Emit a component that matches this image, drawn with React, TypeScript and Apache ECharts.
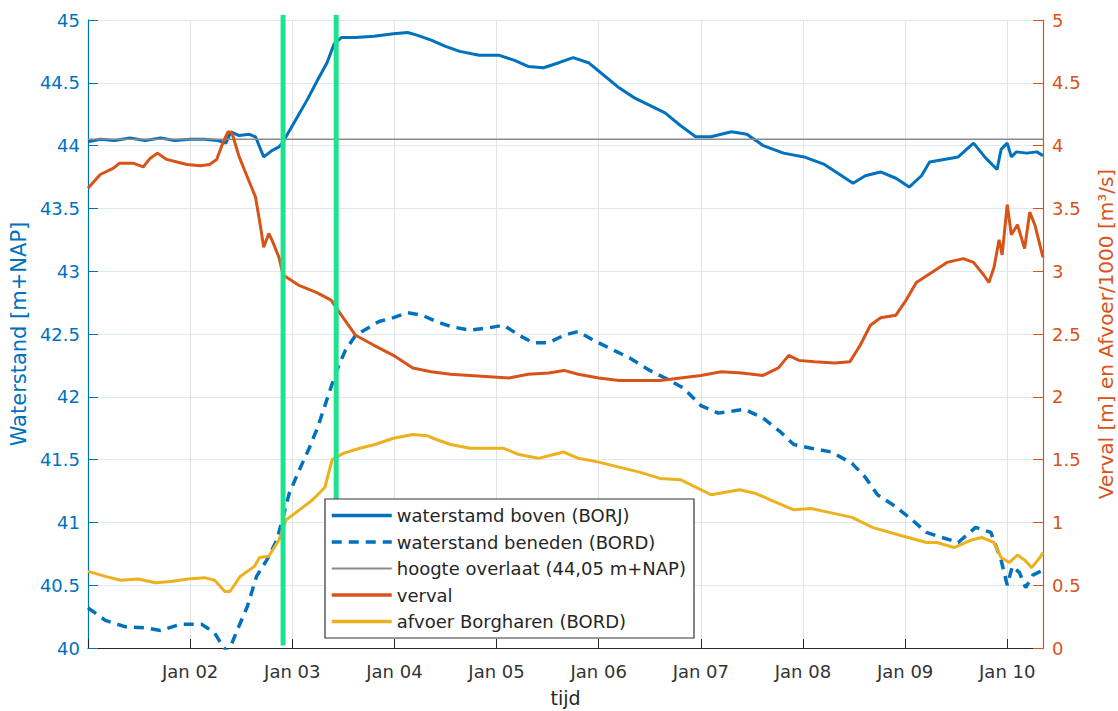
import { useEffect, useRef } from 'react';
import * as echarts from 'echarts';

const FONT = 'DejaVu Sans';

// x axis: days since Jan 01 00:00
const xTickLabels = ['Jan 02', 'Jan 03', 'Jan 04', 'Jan 05', 'Jan 06', 'Jan 07', 'Jan 08', 'Jan 09', 'Jan 10'];
const xMin = 0;
const xMax = 9.35;

const seriesNames = [
  'waterstamd boven (BORJ)',
  'waterstand beneden (BORD)',
  'hoogte overlaat (44,05 m+NAP)',
  'verval',
  'afvoer Borgharen (BORD)',
];

// waterstand boven (BORJ) [m+NAP]
const bovenT = [0.00, 0.12, 0.26, 0.41, 0.56, 0.71, 0.85, 1.00, 1.14, 1.27, 1.35, 1.40, 1.48, 1.58, 1.64, 1.69, 1.72, 1.80, 1.87, 1.91,
  2.03, 2.15, 2.24, 2.34, 2.41, 2.48, 2.62, 2.80, 2.99, 3.13, 3.22, 3.36, 3.50, 3.64, 3.83, 4.02, 4.17, 4.31, 4.46, 4.61,
  4.75, 4.90, 5.05, 5.20, 5.35, 5.50, 5.65, 5.80, 5.95, 6.10, 6.30, 6.45, 6.61, 6.81, 7.01, 7.21, 7.36, 7.49, 7.61, 7.76,
  7.91, 8.04, 8.16, 8.24, 8.38, 8.52, 8.67, 8.79, 8.90, 8.94, 9.00, 9.04, 9.09, 9.19, 9.29, 9.35];
const bovenV = [44.03, 44.05, 44.04, 44.06, 44.04, 44.06, 44.04, 44.05, 44.05, 44.04, 44.02, 44.11, 44.08, 44.09, 44.07, 43.97, 43.91, 43.96, 43.99, 44.03,
  44.20, 44.37, 44.51, 44.66, 44.81, 44.86, 44.86, 44.87, 44.89, 44.90, 44.88, 44.84, 44.79, 44.75, 44.72, 44.72, 44.68, 44.63, 44.62, 44.66,
  44.70, 44.66, 44.56, 44.46, 44.38, 44.32, 44.26, 44.16, 44.07, 44.07, 44.11, 44.09, 44.00, 43.94, 43.91, 43.85, 43.77, 43.70, 43.76, 43.79,
  43.74, 43.67, 43.76, 43.87, 43.89, 43.91, 44.02, 43.90, 43.81, 43.97, 44.02, 43.91, 43.95, 43.94, 43.95, 43.92];

// waterstand beneden (BORD) [m+NAP]
const benedenT = [0.00, 0.17, 0.36, 0.56, 0.71, 0.91, 1.11, 1.24, 1.30, 1.37, 1.46, 1.56, 1.65, 1.75, 1.85, 1.97, 2.07, 2.16, 2.25, 2.34,
  2.43, 2.52, 2.62, 2.85, 2.99, 3.13, 3.27, 3.41, 3.55, 3.74, 3.93, 4.07, 4.22, 4.36, 4.51, 4.66, 4.80, 4.95, 5.10, 5.30,
  5.50, 5.65, 5.83, 6.00, 6.17, 6.43, 6.61, 6.78, 6.91, 7.08, 7.28, 7.48, 7.61, 7.73, 7.88, 8.04, 8.21, 8.36, 8.52, 8.69,
  8.84, 8.94, 9.00, 9.05, 9.12, 9.18, 9.25, 9.35];
const benedenV = [40.32, 40.22, 40.17, 40.16, 40.14, 40.19, 40.19, 40.12, 40.04, 39.96, 40.14, 40.33, 40.57, 40.70, 40.86, 41.23, 41.42, 41.58, 41.76, 41.98,
  42.20, 42.37, 42.49, 42.60, 42.63, 42.67, 42.65, 42.60, 42.56, 42.53, 42.55, 42.57, 42.49, 42.43, 42.43, 42.49, 42.52, 42.45, 42.39, 42.31,
  42.21, 42.15, 42.07, 41.93, 41.87, 41.90, 41.83, 41.72, 41.62, 41.59, 41.56, 41.47, 41.36, 41.22, 41.14, 41.04, 40.92, 40.88, 40.84, 40.96,
  40.92, 40.70, 40.50, 40.65, 40.60, 40.48, 40.58, 40.62];

// hoogte overlaat [m+NAP]
const overlaatT = [0, 9.35];
const overlaatV = [44.05, 44.05];

// verval [m]
const vervalT = [0.00, 0.12, 0.25, 0.31, 0.44, 0.54, 0.61, 0.68, 0.77, 0.87, 0.97, 1.10, 1.19, 1.26, 1.32, 1.37, 1.41, 1.48, 1.55, 1.61,
  1.64, 1.69, 1.72, 1.77, 1.80, 1.87, 1.91, 2.06, 2.24, 2.38, 2.48, 2.62, 2.80, 2.99, 3.18, 3.36, 3.55, 3.74, 3.93, 4.12,
  4.31, 4.51, 4.66, 4.80, 5.00, 5.20, 5.40, 5.60, 5.80, 6.00, 6.20, 6.40, 6.61, 6.76, 6.86, 6.96, 7.11, 7.31, 7.46, 7.56,
  7.66, 7.76, 7.91, 8.01, 8.11, 8.26, 8.41, 8.57, 8.67, 8.77, 8.82, 8.87, 8.92, 8.95, 9.00, 9.04, 9.10, 9.17, 9.22, 9.27, 9.35];
const vervalV = [3.66, 3.77, 3.82, 3.86, 3.86, 3.83, 3.90, 3.94, 3.89, 3.87, 3.85, 3.84, 3.85, 3.89, 4.02, 4.11, 4.10, 3.91, 3.77, 3.65,
  3.59, 3.35, 3.19, 3.30, 3.25, 3.11, 2.97, 2.89, 2.83, 2.77, 2.65, 2.49, 2.41, 2.33, 2.23, 2.20, 2.18, 2.17, 2.16, 2.15,
  2.18, 2.19, 2.21, 2.18, 2.15, 2.13, 2.13, 2.13, 2.15, 2.17, 2.20, 2.19, 2.17, 2.23, 2.33, 2.29, 2.28, 2.27, 2.28, 2.41,
  2.57, 2.63, 2.65, 2.77, 2.91, 2.99, 3.07, 3.10, 3.07, 2.97, 2.91, 3.03, 3.25, 3.13, 3.53, 3.29, 3.37, 3.18, 3.47, 3.37, 3.11];

// afvoer Borgharen (BORD) [m3/s / 1000]
const afvoerT = [0.00, 0.17, 0.32, 0.49, 0.66, 0.81, 0.98, 1.14, 1.24, 1.34, 1.39, 1.49, 1.63, 1.68, 1.77, 1.87, 1.94, 2.07, 2.20, 2.32,
  2.39, 2.50, 2.66, 2.81, 2.99, 3.18, 3.32, 3.41, 3.55, 3.74, 3.93, 4.07, 4.22, 4.41, 4.56, 4.66, 4.80, 5.00, 5.20, 5.40,
  5.60, 5.80, 6.10, 6.38, 6.54, 6.68, 6.91, 7.08, 7.31, 7.48, 7.68, 7.94, 8.21, 8.31, 8.48, 8.65, 8.75, 8.87, 8.94, 9.02,
  9.10, 9.17, 9.24, 9.32, 9.35];
const afvoerV = [0.61, 0.57, 0.54, 0.55, 0.52, 0.53, 0.55, 0.56, 0.54, 0.45, 0.45, 0.57, 0.65, 0.72, 0.73, 0.86, 1.02, 1.10, 1.18, 1.28,
  1.50, 1.55, 1.59, 1.62, 1.67, 1.70, 1.69, 1.66, 1.62, 1.59, 1.59, 1.59, 1.54, 1.51, 1.54, 1.56, 1.51, 1.48, 1.44, 1.40,
  1.35, 1.34, 1.22, 1.26, 1.23, 1.18, 1.10, 1.11, 1.07, 1.04, 0.96, 0.90, 0.84, 0.84, 0.80, 0.86, 0.88, 0.84, 0.72, 0.68,
  0.74, 0.70, 0.64, 0.72, 0.76];

// green marker lines: [day, top (m+NAP), bottom (m+NAP)]
const markerDays = [1.91, 2.43];
const markerTop = [45.04, 45.04];
const markerBottom = [40.02, 41.0];

const zip = (t: number[], v: number[]) => t.map((x, i) => [x, v[i]]);

export default function App() {
  const ref = useRef<HTMLDivElement>(null);
  useEffect(() => {
    if (!ref.current) return;
    const chart = echarts.init(ref.current, undefined, { renderer: 'svg' });
    const blue = '#0072BD';
    const orange = '#D95319';
    const yellow = '#EDB120';
    const dark = '#262626';
    const legendWidths = [3.5, 3.5, 1.8, 3.5, 3.5];
    chart.setOption({
      animation: false,
      backgroundColor: '#ffffff',
      textStyle: { fontFamily: FONT },
      grid: { left: 88, right: 75, top: 20, bottom: 63, containLabel: false, outerBoundsMode: 'none' },
      legend: {
        orient: 'vertical',
        left: 325,
        top: 499,
        data: seriesNames.map((n, i) => ({ name: n, lineStyle: { width: legendWidths[i] } })),
        itemWidth: 60,
        itemHeight: 14,
        itemGap: 7.5,
        padding: [7, 8, 7, 5],
        backgroundColor: '#ffffff',
        borderColor: '#333333',
        borderWidth: 1.2,
        borderRadius: 0,
        z: 10,
        itemStyle: { opacity: 0 },
        textStyle: { fontSize: 18, color: dark, fontFamily: FONT, lineHeight: 19 },
      },
      xAxis: {
        type: 'value',
        min: xMin,
        max: xMax,
        interval: 1,
        name: 'tijd',
        nameLocation: 'middle',
        nameGap: 40,
        nameTextStyle: { fontSize: 19, color: dark, fontFamily: FONT },
        axisLine: { show: true, onZero: false, lineStyle: { color: dark, width: 1.2 } },
        axisTick: { show: true, inside: true, length: 9, lineStyle: { color: dark, width: 1 } },
        axisLabel: {
          color: '#333333',
          fontSize: 18,
          fontFamily: FONT,
          margin: 14,
          showMaxLabel: false,
          formatter: (v: number) => (Number.isInteger(v) && v >= 1 && v <= 9 ? xTickLabels[v - 1] : ''),
        },
        splitLine: { show: true, lineStyle: { color: '#e2e2e2', width: 1 } },
      },
      yAxis: [
        {
          type: 'value',
          position: 'left',
          min: 40,
          max: 45,
          interval: 0.5,
          name: 'Waterstand [m+NAP]',
          nameLocation: 'middle',
          nameGap: 56,
          nameTextStyle: { fontSize: 21, color: blue, fontFamily: FONT },
          axisLine: { show: true, onZero: false, lineStyle: { color: blue, width: 1.2 } },
          axisTick: { show: true, inside: true, length: 10, lineStyle: { color: blue, width: 1 } },
          axisLabel: { color: blue, fontSize: 18, fontFamily: FONT, margin: 8 },
          splitLine: { show: true, lineStyle: { color: '#dce8f2', width: 1 } },
        },
        {
          type: 'value',
          position: 'right',
          min: 0,
          max: 5,
          interval: 0.5,
          name: 'Verval [m] en Afvoer/1000 [m³/s]',
          nameLocation: 'middle',
          nameGap: 53,
          nameTextStyle: { fontSize: 20, color: orange, fontFamily: FONT },
          axisLine: { show: true, onZero: false, lineStyle: { color: orange, width: 1.2 } },
          axisTick: { show: true, inside: true, length: 10, lineStyle: { color: orange, width: 1 } },
          axisLabel: { color: orange, fontSize: 18, fontFamily: FONT, margin: 9 },
          splitLine: { show: false },
        },
      ],
      series: [
        {
          name: seriesNames[0],
          type: 'line',
          yAxisIndex: 0,
          data: zip(bovenT, bovenV),
          symbol: 'none',
          z: 2,
          lineStyle: { color: blue, width: 3 },
          itemStyle: { color: blue },
        },
        {
          name: seriesNames[1],
          type: 'line',
          yAxisIndex: 0,
          data: zip(benedenT, benedenV),
          symbol: 'none',
          z: 2,
          lineStyle: { color: blue, width: 3.5, type: [10, 7] },
          itemStyle: { color: blue },
        },
        {
          name: seriesNames[2],
          type: 'line',
          yAxisIndex: 0,
          data: zip(overlaatT, overlaatV),
          symbol: 'none',
          z: 2,
          lineStyle: { color: '#8a8a8a', width: 1.6 },
          itemStyle: { color: '#8a8a8a' },
        },
        {
          name: seriesNames[3],
          type: 'line',
          yAxisIndex: 1,
          data: zip(vervalT, vervalV),
          symbol: 'none',
          z: 3,
          lineStyle: { color: orange, width: 3 },
          itemStyle: { color: orange },
        },
        {
          name: seriesNames[4],
          type: 'line',
          yAxisIndex: 1,
          data: zip(afvoerT, afvoerV),
          symbol: 'none',
          z: 3,
          lineStyle: { color: yellow, width: 3 },
          itemStyle: { color: yellow },
        },
        {
          name: 'markers',
          type: 'custom',
          yAxisIndex: 0,
          z: 4,
          clip: false,
          silent: true,
          encode: { x: 0, y: 1 },
          data: markerDays.map((d, i) => [d, markerTop[i], markerBottom[i]]),
          renderItem: (_params: any, api: any) => {
            const t = api.value(0);
            const p1 = api.coord([t, api.value(1)]);
            const p2 = api.coord([t, api.value(2)]);
            return {
              type: 'line',
              shape: { x1: p1[0], y1: p1[1], x2: p2[0], y2: p2[1] },
              style: { stroke: '#1FE28E', lineWidth: 5 },
            };
          },
        },
      ],
    });
    return () => chart.dispose();
  }, []);
  return <div ref={ref} style={{ position: 'absolute', left: 0, top: 0, width: 1118, height: 711 }} />;
}
